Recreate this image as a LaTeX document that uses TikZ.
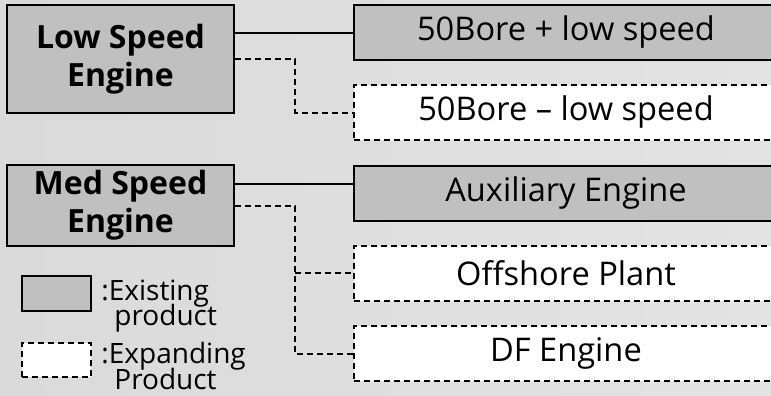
\documentclass[tikz,border=0pt]{standalone}
\usepackage{fontspec}
\setmainfont{Open Sans}
\definecolor{bgleft}{RGB}{218,218,218}
\definecolor{bgright}{RGB}{227,227,227}
\definecolor{boxgray}{RGB}{192,192,192}
\begin{document}
\begin{tikzpicture}[x=0.5pt,y=-0.5pt,
    every node/.style={inner sep=0pt},
    engine/.style={draw,line width=1pt,fill=boxgray,font=\bfseries\fontsize{16}{19}\selectfont,align=center},
    existing/.style={draw,line width=1pt,fill=boxgray,minimum width=212pt,minimum height=27.5pt,font=\fontsize{16.3}{19}\selectfont},
    expanding/.style={existing,fill=white,dash pattern=on 3pt off 2pt},
    legendtext/.style={anchor=base west,font=\fontsize{14}{14}\selectfont},
    line/.style={line width=1pt},
    dashline/.style={line width=1pt,dash pattern=on 3pt off 2pt}]
  \shade[left color=bgleft,right color=bgright] (0,0) rectangle (771,396);
  \useasboundingbox (0,0) rectangle (771,396);
  \node[engine,minimum width=113.5pt,minimum height=54pt] (low) at (120.5,59) {Low Speed\\Engine};
  \node[engine,minimum width=113.5pt,minimum height=40.5pt] (med) at (120.5,205.5) {Med Speed\\Engine};
  \node[existing] (p1) at (566,32.5) {50Bore + low speed};
  \node[expanding] (p2) at (566,112.5) {50Bore -- low speed};
  \node[existing] (p3) at (566,193) {Auxiliary Engine};
  \node[expanding] (p4) at (566,273) {Offshore Plant};
  \node[expanding] (p5) at (566,353.5) {DF Engine};
  \node[draw,line width=1pt,fill=boxgray,minimum width=34.5pt,minimum height=17.5pt] (lg1) at (56.5,293.5) {};
  \node[draw,line width=1pt,fill=white,dash pattern=on 3pt off 2pt,minimum width=34.5pt,minimum height=17pt] (lg2) at (56.5,360) {};
  \node[legendtext] (lg1a) at (101,300) {:Existing};
  \node[legendtext] (lg1b) at (114,325) {product};
  \node[legendtext] (lg2a) at (101,363) {:Expanding};
  \node[legendtext] (lg2b) at (114,389) {Product};
  \draw[line] (low.east |- p1.west) -- (p1.west);
  \draw[dashline] (low.east) -- ++(60,0) |- (p2.west);
  \draw[line] ([yshift=10.75pt]med.east) -- ([yshift=10.75pt]med.east -| p3.west);
  \draw[dashline] (med.east) -- ++(60,0) coordinate (jm) |- (p5.west);
  \draw[dashline] (jm |- p4.west) -- (p4.west);
\end{tikzpicture}
\end{document}
